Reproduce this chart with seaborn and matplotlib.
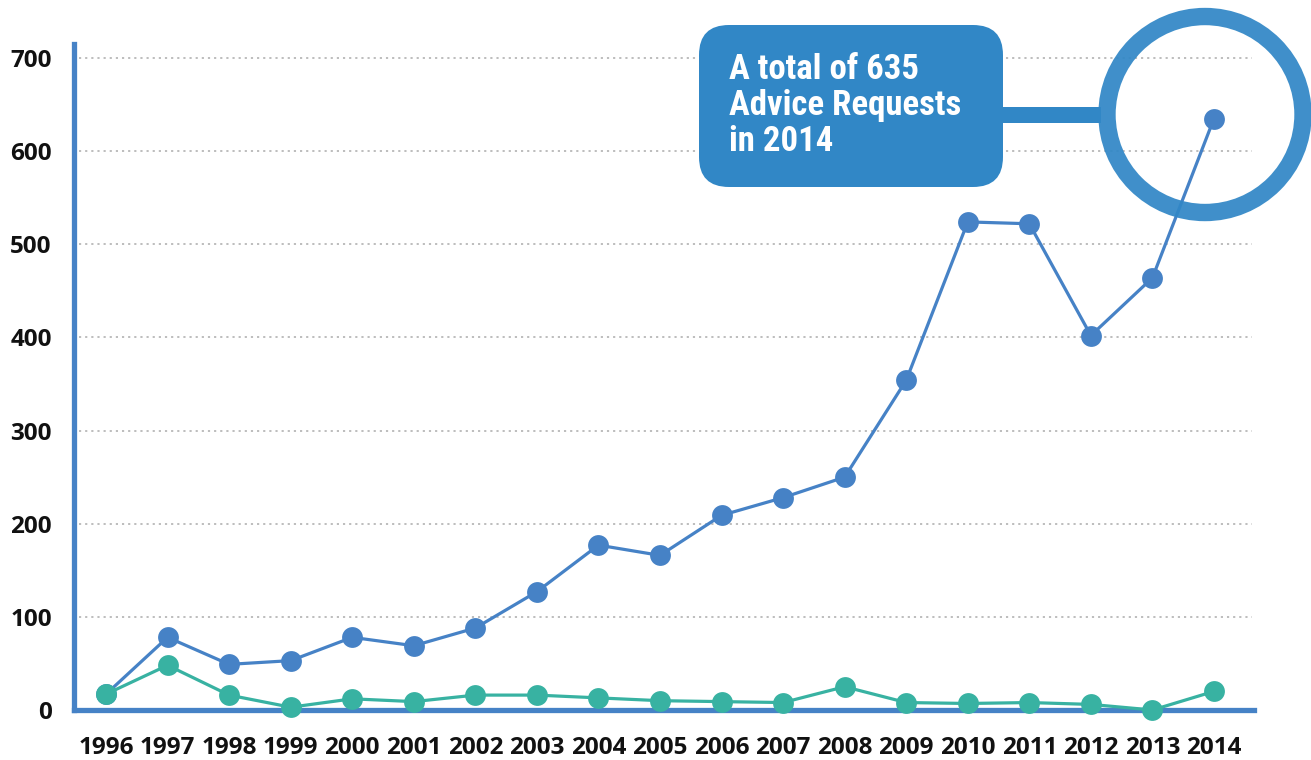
import matplotlib
matplotlib.use("Agg")
import matplotlib.pyplot as plt
import seaborn as sns
import pandas as pd
from matplotlib.patches import FancyBboxPatch, Circle, Rectangle
from matplotlib.transforms import IdentityTransform

years = list(range(1996, 2015))
advice_requests = [17, 78, 49, 53, 78, 69, 88, 127, 177, 166, 209, 228, 250, 354, 524, 522, 402, 464, 635]
second_series = [17, 48, 16, 3, 12, 9, 16, 16, 13, 10, 9, 8, 25, 8, 7, 8, 6, 0, 20]
y_ticks = [0, 100, 200, 300, 400, 500, 600, 700]
callout_lines = ["A total of 635", "Advice Requests", "in 2014"]

BLUE = "#4682c6"
GREEN = "#38b2a2"
BOX = "#3187c6"

sns.set_theme(style="white")
plt.rcParams['font.family'] = ['Open Sans', 'DejaVu Sans']

W, H = 1311, 760
fig = plt.figure(figsize=(W / 100, H / 100), dpi=100)
ax = fig.add_axes([74 / W, 50 / H, (1254 - 74) / W, (710 - 44) / H])

df = pd.DataFrame({"year": years, "advice": advice_requests, "other": second_series})

sns.lineplot(data=df, x="year", y="advice", ax=ax, color=BLUE, linewidth=2.3,
             marker="o", markersize=15, markeredgewidth=0, clip_on=False, zorder=3)
sns.lineplot(data=df, x="year", y="other", ax=ax, color=GREEN, linewidth=2.3,
             marker="o", markersize=15, markeredgewidth=0, clip_on=False, zorder=4)

ax.set_xlim(years[0] - 0.52, years[-1] + 0.65)
ax.set_ylim(0, 715)
ax.set_xticks(years)
ax.set_xticklabels([str(y) for y in years])
ax.set_yticks(y_ticks)
ax.set_yticklabels([str(v) for v in y_ticks])
ax.set_xlabel("")
ax.set_ylabel("")

for v in y_ticks[1:]:
    ax.axhline(v, color="#b8b8b8", linewidth=1.3, linestyle=(0, (1.2, 2.2)), zorder=1,
               xmin=0.004, xmax=0.998)

for s in ["top", "right"]:
    ax.spines[s].set_visible(False)
for s in ["left", "bottom"]:
    ax.spines[s].set_color(BLUE)
    ax.spines[s].set_linewidth(3.8)
    ax.spines[s].set_zorder(2)

ax.tick_params(axis="both", length=0, labelsize=17.5, colors="#111111")
ax.tick_params(axis="x", pad=19)
ax.tick_params(axis="y", pad=16)
for lab in ax.get_xticklabels() + ax.get_yticklabels():
    lab.set_fontweight("bold")

# Callout decoration (pixel coordinates, anchored to the 2014 point)
fig.canvas.draw()
px, py = ax.transData.transform((years[-1], advice_requests[-1]))
cx, cy = px - 9, py + 4
ring = Circle((cx, cy), 98, transform=IdentityTransform(), fill=False,
              edgecolor=BOX, linewidth=12.5, alpha=0.93, zorder=10)
fig.add_artist(ring)

bx0, by0, bx1, by1 = 699, H - 187, 1003, H - 25
box = FancyBboxPatch((bx0 + 30, by0 + 30), (bx1 - bx0) - 60, (by1 - by0) - 60,
                     boxstyle="round,pad=30", transform=IdentityTransform(),
                     facecolor=BOX, edgecolor="none", zorder=10)
fig.add_artist(box)
bar = Rectangle((bx1 - 2, cy - 8), (cx - 98 - 6) - (bx1 - 2), 16,
                transform=IdentityTransform(), facecolor=BOX, edgecolor="none", zorder=10)
fig.add_artist(bar)

fig.text(729 / W, 1 - 53 / H, "\n".join(callout_lines), color="white",
         fontsize=25, fontweight="bold", va="top", ha="left", linespacing=1.12,
         family=['Liberation Sans Narrow', 'Roboto Condensed', 'Roboto', 'DejaVu Sans'],
         zorder=11)

fig.savefig("out.png", dpi=100)
